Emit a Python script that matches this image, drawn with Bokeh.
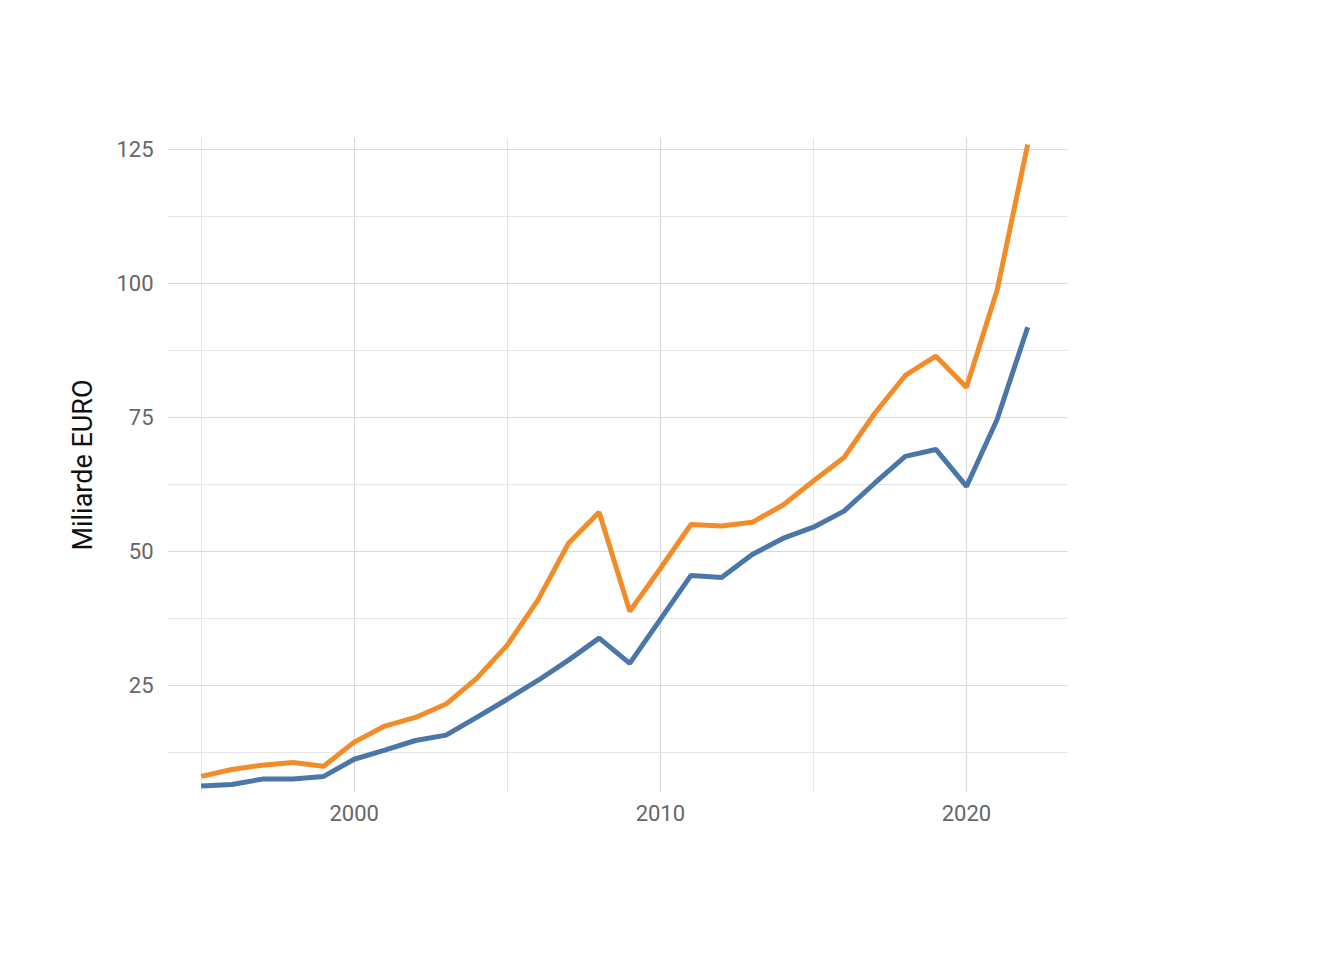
from bokeh.plotting import figure
from bokeh.models import Legend, LegendItem, Label, FixedTicker, Range1d
from bokeh.embed import file_html
from bokeh.resources import INLINE

years = list(range(1995, 2023))
export = [6.2, 6.5, 7.5, 7.5, 8.0, 11.2, 12.9, 14.7, 15.7, 19.0, 22.4, 25.9, 29.7, 33.8,
          29.1, 37.3, 45.5, 45.1, 49.4, 52.4, 54.5, 57.5, 62.7, 67.7, 69.0, 62.1, 74.6, 91.8]
imports = [8.0, 9.3, 10.1, 10.6, 9.9, 14.4, 17.4, 19.0, 21.5, 26.3, 32.5, 40.9, 51.5, 57.3,
           38.8, 46.8, 55.0, 54.7, 55.4, 58.6, 63.1, 67.5, 75.7, 82.8, 86.4, 80.6, 98.7, 125.9]
x_ticks = [2000, 2010, 2020]
x_minor = [1995, 2005, 2015]
y_ticks = [25, 50, 75, 100, 125]
y_minor = [12.5, 37.5, 62.5, 87.5, 112.5]

FONT = "Roboto"
X0, X1, Y0, Y1 = 1993.9, 2023.3, 5.0, 127.2

p = figure(width=1328, height=944, output_backend="svg", toolbar_location=None,
           x_range=Range1d(X0, X1), y_range=Range1d(Y0, Y1),
           min_border_left=167, min_border_right=261, min_border_top=137, min_border_bottom=152)
p.outline_line_color = None
p.background_fill_color = "white"

l_exp = p.line(years, export, line_width=5, color="#4B76A8")
l_imp = p.line(years, imports, line_width=5, color="#F28C28")

p.xaxis.ticker = FixedTicker(ticks=x_ticks, minor_ticks=x_minor)
p.yaxis.ticker = FixedTicker(ticks=y_ticks, minor_ticks=y_minor)
for ax in (p.xaxis[0], p.yaxis[0]):
    ax.axis_line_color = None
    ax.major_tick_line_color = None
    ax.minor_tick_line_color = None
    ax.major_label_text_font = FONT
    ax.major_label_text_font_size = "22px"
    ax.major_label_text_color = "#666666"
    ax.major_label_text_font_style = "normal"
p.xaxis.major_label_standoff = 6
p.yaxis.major_label_standoff = 8
p.yaxis.axis_label = "Miliarde EURO"
p.yaxis.axis_label_text_font = FONT
p.yaxis.axis_label_text_font_style = "normal"
p.yaxis.axis_label_text_font_size = "27px"
p.yaxis.axis_label_text_color = "#111111"
p.yaxis.axis_label_standoff = 14
for g in (p.xgrid[0], p.ygrid[0]):
    g.grid_line_color = "#D9D9D9"
    g.grid_line_width = 1.2
    g.minor_grid_line_color = "#E6E6E6"
    g.minor_grid_line_width = 1

legend = Legend(items=[LegendItem(label="export", renderers=[l_exp]),
                       LegendItem(label="import", renderers=[l_imp])],
                location=(933, 258), title="Indicator")
legend.title_text_font = FONT
legend.title_text_font_size = "29px"
legend.title_text_font_style = "normal"
legend.title_text_color = "#111111"
legend.title_standoff = 10
legend.label_text_font = FONT
legend.label_text_font_size = "23px"
legend.label_text_color = "#111111"
legend.label_standoff = 14
legend.border_line_color = None
legend.background_fill_alpha = 0
legend.glyph_width = 34
legend.spacing = 6
p.add_layout(legend)

p.add_layout(Label(x=X0, y=Y1 + 35 / 5.36, text="Valoarea importurilor/exporturilor",
                   text_font=FONT, text_font_style="bold", text_font_size="38px",
                   text_color="#000000"))
p.add_layout(Label(x=X1, y=Y0 - 76 / 5.36, text_align="right",
                   text="Sursa: Eurostat nama_10_gdp, INS EXP101F/102F", text_font=FONT,
                   text_font_size="23px", text_color="#111111"))

open("out.html", "w").write(file_html(p, INLINE))
